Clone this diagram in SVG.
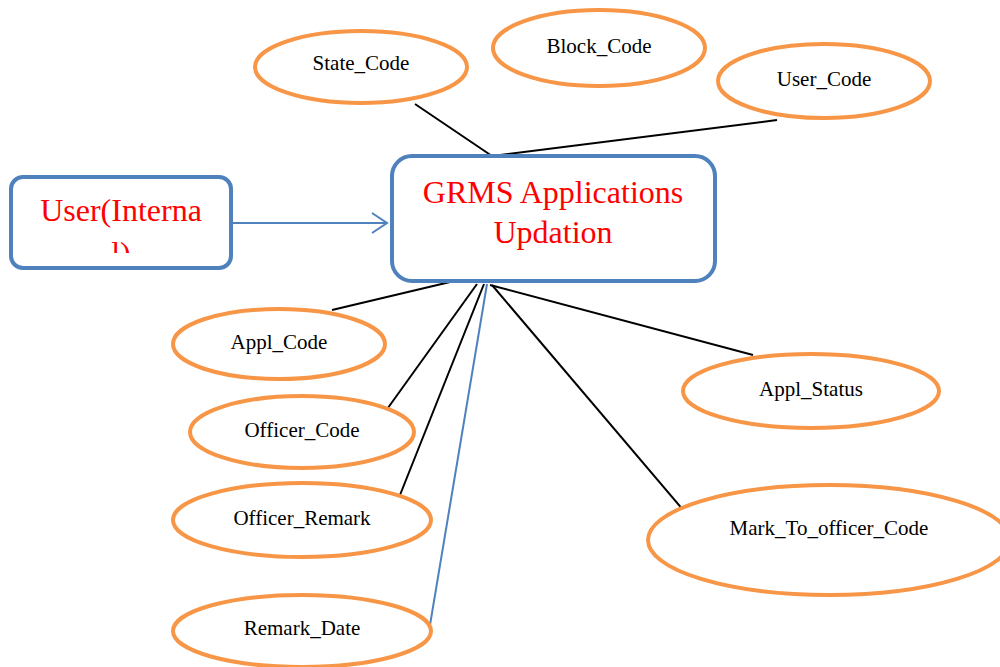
<svg xmlns="http://www.w3.org/2000/svg" width="1000" height="667" viewBox="0 0 1000 667">
<style>
.attr{fill:#fff;stroke:#f79646;stroke-width:4}
.box{fill:#fff;stroke:#4f81bd;stroke-width:4}
.lbl{font-family:'Liberation Serif','Times New Roman',serif;font-size:21px;fill:#000;text-anchor:middle}
.big{font-family:'Liberation Serif','Times New Roman',serif;font-size:32px;fill:#ff0000;text-anchor:middle}
.c{stroke:#000;stroke-width:2;fill:none}
.cb{stroke:#4f81bd;stroke-width:2;fill:none}
</style>
<defs>
<clipPath id="clipU"><rect x="13" y="179" width="216" height="74"/></clipPath>
</defs>
<rect width="1000" height="667" fill="#fff"/>
<g id="connectors">
<line class="c" x1="415" y1="104" x2="492" y2="156"/>
<line class="c" x1="492" y1="156" x2="777" y2="120"/>
<line class="c" x1="332" y1="310" x2="450" y2="282"/>
<line class="c" x1="385" y1="412" x2="477" y2="284"/>
<line class="c" x1="398" y1="500" x2="484" y2="284"/>
<line class="cb" x1="430" y1="625" x2="487" y2="284"/>
<line class="c" x1="753" y1="355" x2="490" y2="285"/>
<line class="c" x1="684" y1="511" x2="492" y2="285"/>
<line class="cb" x1="233" y1="223" x2="387" y2="223"/>
<polyline class="cb" points="372,213 387,223 372,233"/>
</g>
<g id="user">
<rect class="box" x="11" y="177" width="220" height="91" rx="12"/>
<g clip-path="url(#clipU)">
<text class="big" x="121" y="221">User(Interna</text>
<text class="big" x="121" y="264">l)</text>
</g>
</g>
<g id="grms">
<rect class="box" x="392" y="156" width="323" height="125" rx="20"/>
<text class="big" x="553" y="203">GRMS Applications</text>
<text class="big" x="553" y="243">Updation</text>
</g>
<g id="state_code"><ellipse class="attr" cx="361" cy="67" rx="106" ry="36"/><text class="lbl" x="361" y="70">State_Code</text></g>
<g id="block_code"><ellipse class="attr" cx="599" cy="48" rx="106" ry="38"/><text class="lbl" x="599" y="53">Block_Code</text></g>
<g id="user_code"><ellipse class="attr" cx="824" cy="81" rx="106" ry="37"/><text class="lbl" x="824" y="86">User_Code</text></g>
<g id="appl_code"><ellipse class="attr" cx="279" cy="344" rx="106" ry="35"/><text class="lbl" x="279" y="349">Appl_Code</text></g>
<g id="officer_code"><ellipse class="attr" cx="302" cy="432" rx="112" ry="36"/><text class="lbl" x="302" y="437">Officer_Code</text></g>
<g id="officer_remark"><ellipse class="attr" cx="302" cy="520" rx="129" ry="37"/><text class="lbl" x="302" y="525">Officer_Remark</text></g>
<g id="remark_date"><ellipse class="attr" cx="302" cy="631" rx="129" ry="36"/><text class="lbl" x="302" y="635">Remark_Date</text></g>
<g id="appl_status"><ellipse class="attr" cx="811" cy="391" rx="128" ry="37"/><text class="lbl" x="811" y="396">Appl_Status</text></g>
<g id="mark_to_officer_code"><ellipse class="attr" cx="829" cy="540" rx="181" ry="55"/><text class="lbl" x="829" y="535">Mark_To_officer_Code</text></g>
</svg>
